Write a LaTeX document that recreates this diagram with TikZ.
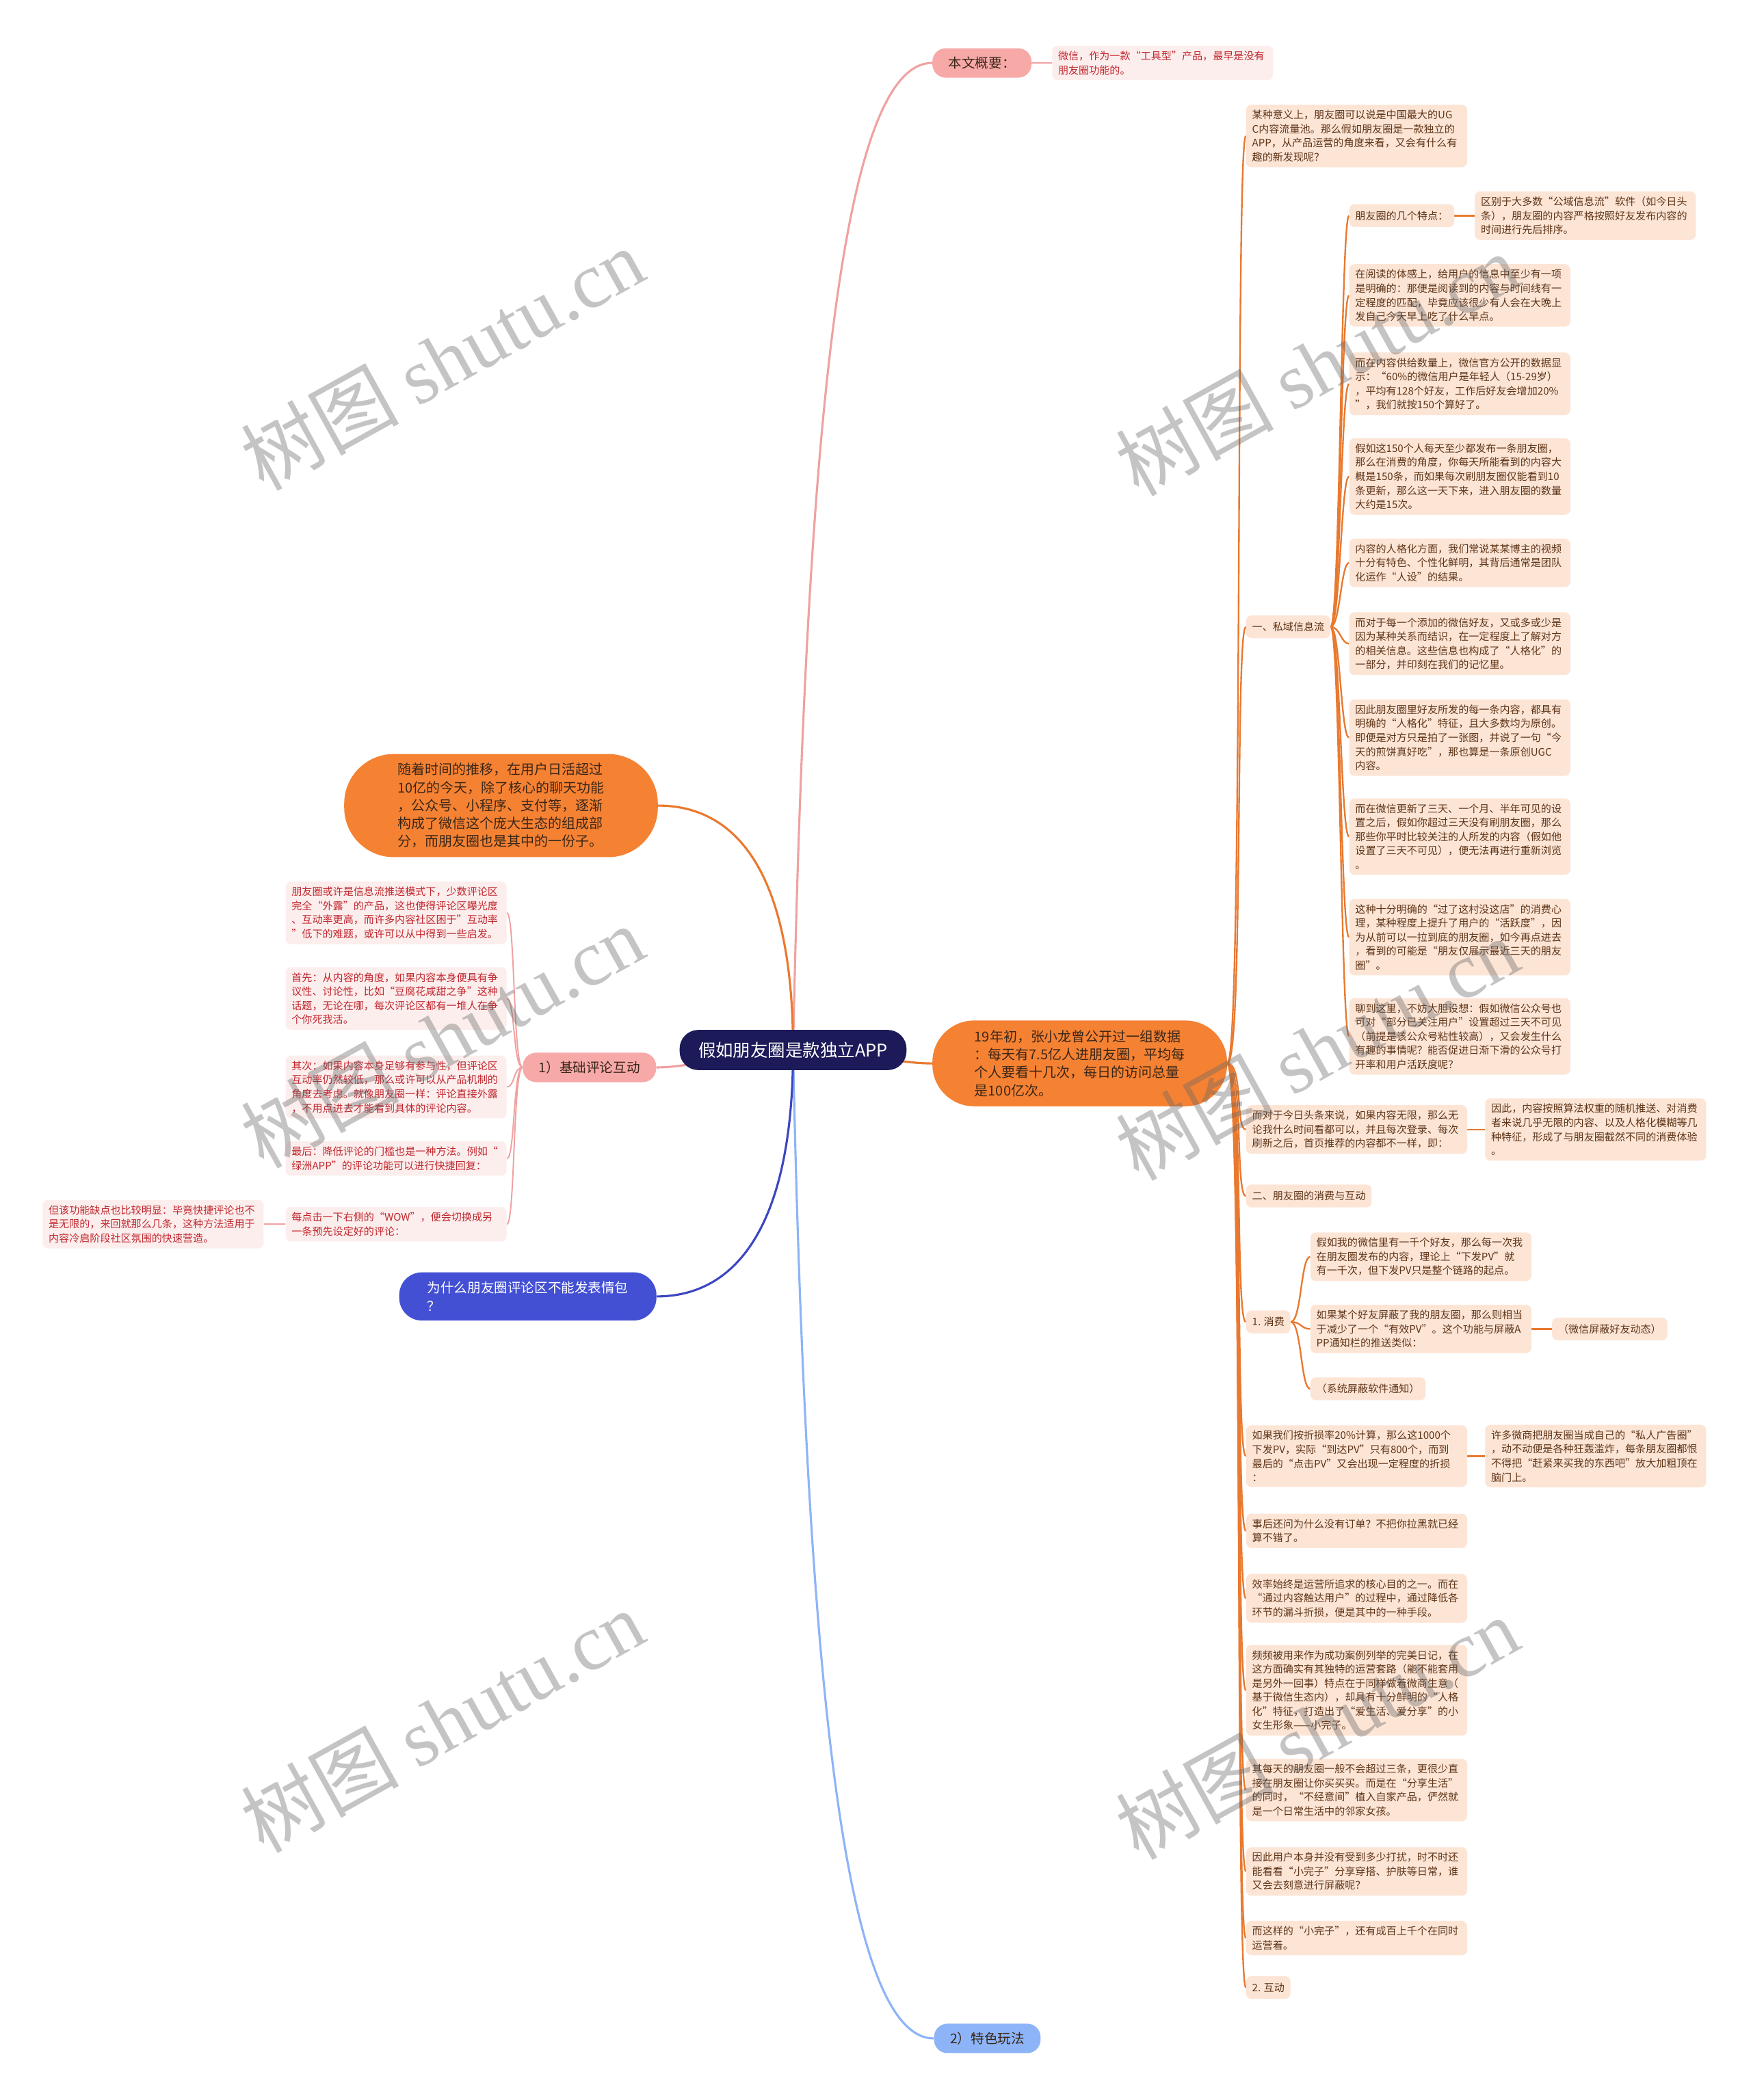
\documentclass[tikz,border=0pt]{standalone}
\usepackage{fontspec}
\setmainfont{Noto Sans CJK SC}
\newfontfamily\seriflatin{Liberation Serif}
\usetikzlibrary{positioning,backgrounds}
\definecolor{navy}{HTML}{1C1A58}
\definecolor{peach}{HTML}{FDE5D6}
\definecolor{bark}{HTML}{5E3518}
\definecolor{carrot}{HTML}{F58233}
\definecolor{carrotline}{HTML}{E9792F}
\definecolor{blush}{HTML}{FDEEEE}
\definecolor{wine}{HTML}{C0272D}
\definecolor{rosefill}{HTML}{F7A9A8}
\definecolor{roseline}{HTML}{F0A1A1}
\definecolor{indigo}{HTML}{4350D4}
\definecolor{indigoline}{HTML}{3D46C2}
\definecolor{sky}{HTML}{8DB4F7}
\definecolor{darkink}{HTML}{3A2618}
\begin{document}
\begin{tikzpicture}[x=1pt,y=-1pt,
  leaf/.style={fill=peach,text=bark,rounded corners=4pt,inner xsep=4.5pt,inner ysep=4pt,
    font=\fontsize{7.7}{10.5}\selectfont,align=left},
  wideleaf/.style={leaf,text width=156pt,anchor=north west},
  leaftag/.style={leaf,minimum height=17pt,anchor=west},
  pinkleaf/.style={wideleaf,fill=blush,text=wine},
  orangepill/.style={fill=carrot,text=darkink,align=left,inner ysep=4pt,
    font=\fontsize{10.2}{13.4}\selectfont},
  rosepill/.style={fill=rosefill,text=darkink,inner xsep=12pt,inner ysep=3pt,minimum height=22pt,
    rounded corners=10pt,font=\fontsize{10}{13}\selectfont},
  orangetwig/.style={draw=carrotline,line width=1.2pt},
  rosetwig/.style={draw=roseline,line width=1pt},
  bough/.style={line width=1.6pt},
  shuiyin/.style={rotate=29,text=black!60,text opacity=0.38,font=\fontsize{59}{59}\selectfont}]
  \useasboundingbox (0,0) rectangle (1307,1568);

  \node[fill=navy,text=white,inner xsep=14pt,minimum height=30pt,rounded corners=14pt,
    font=\fontsize{13}{15}\selectfont] (root) at (592,784) {假如朋友圈是款独立APP};

  \node[rosepill] (gai) at (733,47) {本文概要：};
  \node[pinkleaf,right=15pt of gai] (gaileaf) {微信，作为一款“工具型”产品，最早是没有\\朋友圈功能的。};

  \node[orangepill,inner xsep=31.5pt,minimum height=64pt,rounded corners=31pt] (b19) at (806,794)
    {19年初，张小龙曾公开过一组数据\\：每天有7.5亿人进朋友圈，平均每\\个人要看十几次，每日的访问总量\\是100亿次。};
  \node[orangepill,inner xsep=40pt,minimum height=77pt,rounded corners=37pt] (suizhe) at (374,601.5)
    {随着时间的推移，在用户日活超过\\10亿的今天，除了核心的聊天功能\\，公众号、小程序、支付等，逐渐\\构成了微信这个庞大生态的组成部\\分，而朋友圈也是其中的一份子。};
  \node[rosepill] (jc) at (440,797) {1）基础评论互动};
  \node[fill=indigo,text=white,align=left,inner xsep=21pt,minimum height=36pt,rounded corners=17pt,
    font=\fontsize{10}{13.5}\selectfont] (why) at (394,968) {为什么朋友圈评论区不能发表情包\\？};
  \node[rosepill,fill=sky] (tese) at (737,1522) {2）特色玩法};

  \node[pinkleaf] (p1) at (213,658) {朋友圈或许是信息流推送模式下，少数评论区\\完全“外露”的产品，这也使得评论区曝光度\\、互动率更高，而许多内容社区困于”互动率\\”低下的难题，或许可以从中得到一些启发。};
  \node[pinkleaf] (p2) at (213,722) {首先：从内容的角度，如果内容本身便具有争\\议性、讨论性，比如“豆腐花咸甜之争”这种\\话题，无论在哪，每次评论区都有一堆人在争\\个你死我活。};
  \node[pinkleaf] (p3) at (213,788) {其次：如果内容本身足够有参与性，但评论区\\互动率仍然较低，那么或许可以从产品机制的\\角度去考虑。就像朋友圈一样：评论直接外露\\，不用点进去才能看到具体的评论内容。};
  \node[pinkleaf] (p4) at (213,852) {最后：降低评论的门槛也是一种方法。例如“\\绿洲APP”的评论功能可以进行快捷回复：};
  \node[pinkleaf] (p5) at (213,901) {每点击一下右侧的“WOW”，便会切换成另\\一条预先设定好的评论：};
  \node[pinkleaf,left=16pt of p5] (p6) {但该功能缺点也比较明显：毕竟快捷评论也不\\是无限的，来回就那么几条，这种方法适用于\\内容冷启阶段社区氛围的快速营造。};

  \node[wideleaf] (r1) at (930,78) {某种意义上，朋友圈可以说是中国最大的UG\\C内容流量池。那么假如朋友圈是一款独立的\\APP，从产品运营的角度来看，又会有什么有\\趣的新发现呢？};
  \node[leaftag] (r2) at (930,468) {一、私域信息流};
  \node[leaftag] (s1) at (1007,161) {朋友圈的几个特点：};
  \node[wideleaf,right=15pt of s1] (s1b) {区别于大多数“公域信息流”软件（如今日头\\条），朋友圈的内容严格按照好友发布内容的\\时间进行先后排序。};
  \node[wideleaf] (s2) at (1007,197) {在阅读的体感上，给用户的信息中至少有一项\\是明确的：那便是阅读到的内容与时间线有一\\定程度的匹配，毕竟应该很少有人会在大晚上\\发自己今天早上吃了什么早点。};
  \node[wideleaf] (s3) at (1007,263) {而在内容供给数量上，微信官方公开的数据显\\示：“60\%的微信用户是年轻人（15-29岁）\\，平均有128个好友，工作后好友会增加20\%\\”，我们就按150个算好了。};
  \node[wideleaf] (s4) at (1007,327) {假如这150个人每天至少都发布一条朋友圈，\\那么在消费的角度，你每天所能看到的内容大\\概是150条，而如果每次刷朋友圈仅能看到10\\条更新，那么这一天下来，进入朋友圈的数量\\大约是15次。};
  \node[wideleaf] (s5) at (1007,402) {内容的人格化方面，我们常说某某博主的视频\\十分有特色、个性化鲜明，其背后通常是团队\\化运作“人设”的结果。};
  \node[wideleaf] (s6) at (1007,457) {而对于每一个添加的微信好友，又或多或少是\\因为某种关系而结识，在一定程度上了解对方\\的相关信息。这些信息也构成了“人格化”的\\一部分，并印刻在我们的记忆里。};
  \node[wideleaf] (s7) at (1007,522) {因此朋友圈里好友所发的每一条内容，都具有\\明确的“人格化”特征，且大多数均为原创。\\即便是对方只是拍了一张图，并说了一句“今\\天的煎饼真好吃”，那也算是一条原创UGC\\内容。};
  \node[wideleaf] (s8) at (1007,596) {而在微信更新了三天、一个月、半年可见的设\\置之后，假如你超过三天没有刷朋友圈，那么\\那些你平时比较关注的人所发的内容（假如他\\设置了三天不可见），便无法再进行重新浏览\\。};
  \node[wideleaf] (s9) at (1007,671) {这种十分明确的“过了这村没这店”的消费心\\理，某种程度上提升了用户的“活跃度”，因\\为从前可以一拉到底的朋友圈，如今再点进去\\，看到的可能是“朋友仅展示最近三天的朋友\\圈”。};
  \node[wideleaf] (s10) at (1007,745) {聊到这里，不妨大胆设想：假如微信公众号也\\可对“部分已关注用户”设置超过三天不可见\\（前提是该公众号粘性较高），又会发生什么\\有趣的事情呢？能否促进日渐下滑的公众号打\\开率和用户活跃度呢？};
  \node[wideleaf] (r3) at (930,825) {而对于今日头条来说，如果内容无限，那么无\\论我什么时间看都可以，并且每次登录、每次\\刷新之后，首页推荐的内容都不一样，即：};
  \node[wideleaf,right=13pt of r3] (r3b) {因此，内容按照算法权重的随机推送、对消费\\者来说几乎无限的内容、以及人格化模糊等几\\种特征，形成了与朋友圈截然不同的消费体验\\。};
  \node[leaftag] (r4) at (930,893) {二、朋友圈的消费与互动};
  \node[leaftag] (r5) at (930,987) {1. 消费};
  \node[wideleaf] (c1) at (978,920) {假如我的微信里有一千个好友，那么每一次我\\在朋友圈发布的内容，理论上“下发PV”就\\有一千次，但下发PV只是整个链路的起点。};
  \node[wideleaf] (c2) at (978,974) {如果某个好友屏蔽了我的朋友圈，那么则相当\\于减少了一个“有效PV”。这个功能与屏蔽A\\PP通知栏的推送类似：};
  \node[leaftag,right=15pt of c2] (c2b) {（微信屏蔽好友动态）};
  \node[leaftag] (c3) at (978,1037) {（系统屏蔽软件通知）};
  \node[wideleaf] (r6) at (930,1064) {如果我们按折损率20\%计算，那么这1000个\\下发PV，实际“到达PV”只有800个，而到\\最后的“点击PV”又会出现一定程度的折损\\：};
  \node[wideleaf,right=13pt of r6] (r6b) {许多微商把朋友圈当成自己的“私人广告圈”\\，动不动便是各种狂轰滥炸，每条朋友圈都恨\\不得把“赶紧来买我的东西吧”放大加粗顶在\\脑门上。};
  \node[wideleaf] (r7) at (930,1130) {事后还问为什么没有订单？不把你拉黑就已经\\算不错了。};
  \node[wideleaf] (r8) at (930,1175) {效率始终是运营所追求的核心目的之一。而在\\“通过内容触达用户”的过程中，通过降低各\\环节的漏斗折损，便是其中的一种手段。};
  \node[wideleaf] (r9) at (930,1228) {频频被用来作为成功案例列举的完美日记，在\\这方面确实有其独特的运营套路（能不能套用\\是另外一回事）特点在于同样做着微商生意（\\基于微信生态内），却具有十分鲜明的“人格\\化”特征，打造出了“爱生活、爱分享”的小\\女生形象——小完子。};
  \node[wideleaf] (r10) at (930,1313) {其每天的朋友圈一般不会超过三条，更很少直\\接在朋友圈让你买买买。而是在“分享生活”\\的同时，“不经意间”植入自家产品，俨然就\\是一个日常生活中的邻家女孩。};
  \node[wideleaf] (r11) at (930,1379) {因此用户本身并没有受到多少打扰，时不时还\\能看看“小完子”分享穿搭、护肤等日常，谁\\又会去刻意进行屏蔽呢？};
  \node[wideleaf] (r12) at (930,1434) {而这样的“小完子”，还有成百上千个在同时\\运营着。};
  \node[leaftag] (r13) at (930,1484) {2. 互动};

  \begin{scope}[on background layer]
    \fill[white] (0,0) rectangle (1307,1568);
    \draw[bough,roseline] (root.center) .. controls +(10,-484) and +(-65,0) .. (gai.west);
    \draw[bough,sky] (root.center) .. controls +(10,484) and +(-65,0) .. (tese.west);
    \draw[bough,carrotline] (root.center) .. controls +(0,-130) and +(60,0) .. (suizhe.east);
    \draw[bough,indigoline] (root.center) .. controls +(0,130) and +(60,0) .. (why.east);
    \draw[bough,roseline] (root.center) .. controls +(-40,0) and +(30,0) .. (jc.east);
    \draw[bough,carrotline] (root.center) .. controls +(50,0) and +(-30,0) .. (b19.west);
    \draw[rosetwig] (gai.east) -- (gaileaf.west);
    \foreach \k in {r1,r2,r3,r4,r5,r6,r7,r8,r9,r10,r11,r12,r13}
      \draw[orangetwig] (b19.east) .. controls +(12,0) and +(-8,0) .. (\k.west);
    \foreach \k in {s1,s2,s3,s4,s5,s6,s7,s8,s9,s10}
      \draw[orangetwig] (r2.east) .. controls +(7,0) and +(-6,0) .. (\k.west);
    \foreach \k in {c1,c2,c3}
      \draw[orangetwig] (r5.east) .. controls +(8,0) and +(-7,0) .. (\k.west);
    \foreach \a/\b in {s1/s1b,r3/r3b,c2/c2b,r6/r6b}
      \draw[orangetwig] (\a.east) -- (\b.west);
    \foreach \k in {p1,p2,p3,p4,p5}
      \draw[rosetwig] (jc.west) .. controls +(-7,0) and +(6,0) .. (\k.east);
    \draw[rosetwig] (p5.west) -- (p6.east);
  \end{scope}

  \foreach \wx/\wy [count=\w] in {330/268,983/272,330/774,983/783,330/1285,983/1290}
    \node[shuiyin] (wm\w) at (\wx,\wy) {树图 {\seriflatin shutu.cn}};
\end{tikzpicture}
\end{document}
